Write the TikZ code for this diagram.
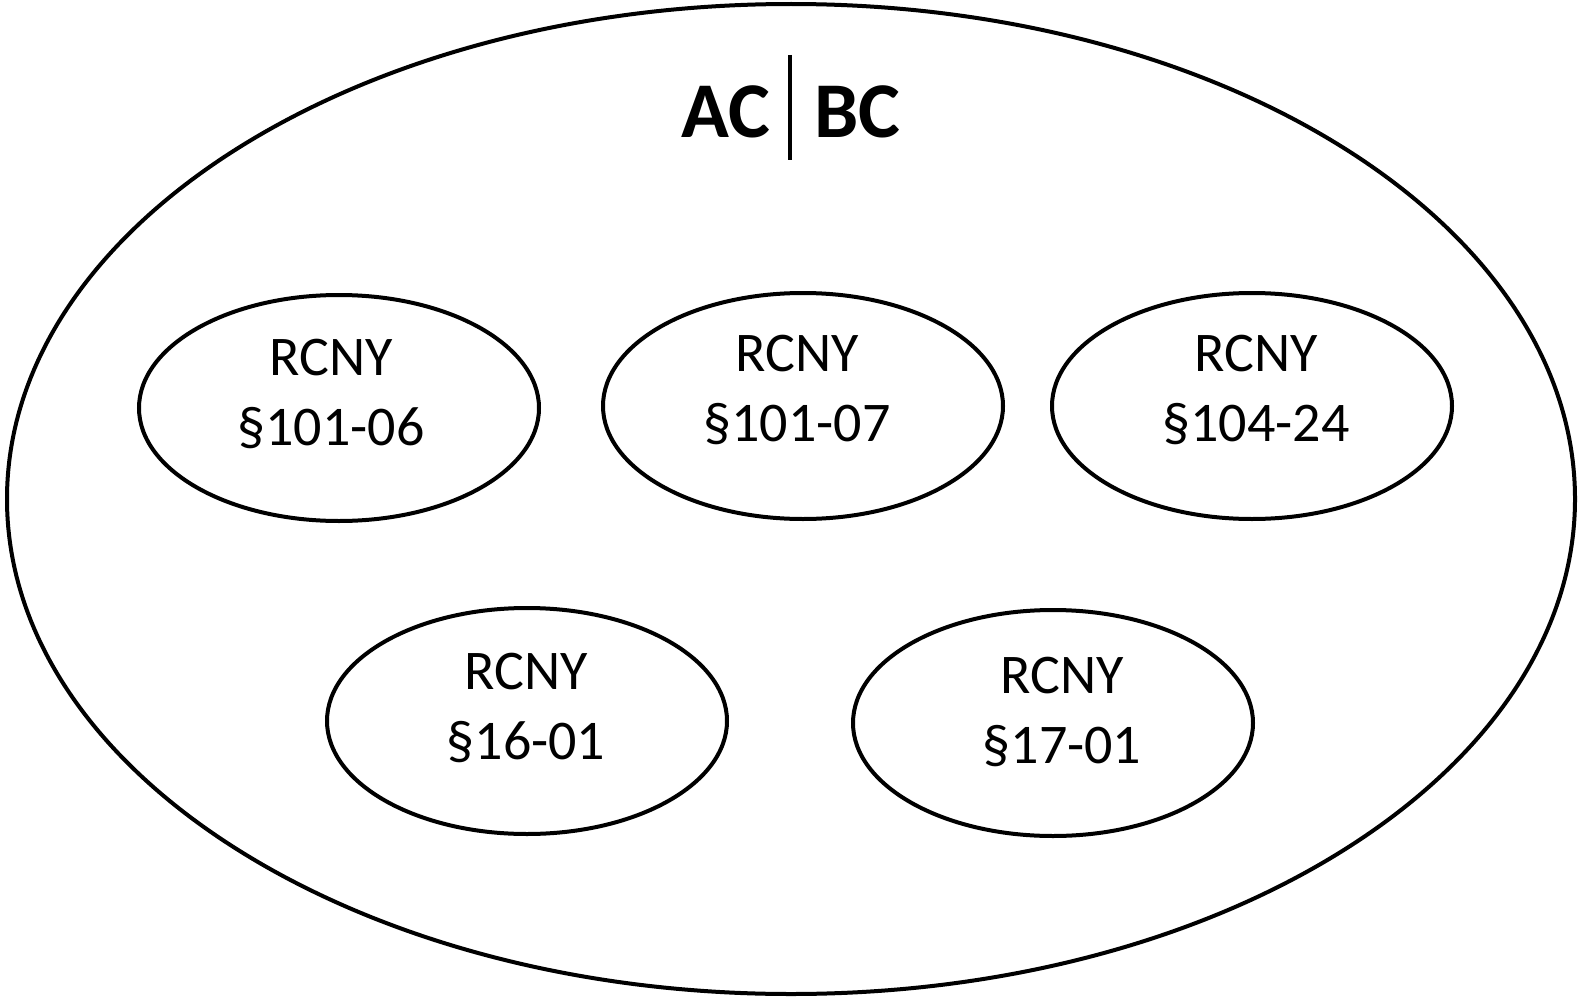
\documentclass[tikz,border=0pt]{standalone}
\usepackage{fontspec}
\setmainfont{Carlito}
\usetikzlibrary{shapes.geometric}
\begin{document}
\begin{tikzpicture}[x=1pt,y=-1pt,
  outline/.style={draw=black,line width=4pt},
  rule/.style={ellipse,outline,inner sep=0pt,minimum width=400pt,minimum height=226pt},
  ruletext/.style={inner sep=0pt,align=center,font=\fontsize{56}{70}\selectfont},
  heading/.style={inner sep=0pt,font=\fontsize{79}{95}\selectfont\bfseries}]
\useasboundingbox (0,0) rectangle (1580,998);

% enclosing set
\node[ellipse,outline,inner sep=0pt,minimum width=1568pt,minimum height=990pt] (all) at (791,499) {};

% heading with its divider
\node[heading,anchor=base east] (ac) at (770,137) {AC};
\node[heading,anchor=base west] (bc) at (814,137) {BC};
\coordinate (bartop) at (790,55);
\coordinate (barbot) at (790,160);
\draw[line width=4.5pt] (bartop) -- (barbot);

% individual rules
\node[rule] (r1) at (339,408) {};
\node[rule] (r2) at (803,406) {};
\node[rule] (r3) at (1252,406) {};
\node[rule] (r4) at (527,721) {};
\node[rule] (r5) at (1053,723) {};

\node[ruletext] (t1) at (331,394) {RCNY\\§101-06};
\node[ruletext] (t2) at (797,390) {RCNY\\§101-07};
\node[ruletext] (t3) at (1256,390) {RCNY\\§104-24};
\node[ruletext] (t4) at (526,708) {RCNY\\§16-01};
\node[ruletext] (t5) at (1062,712) {RCNY\\§17-01};
\end{tikzpicture}
\end{document}
